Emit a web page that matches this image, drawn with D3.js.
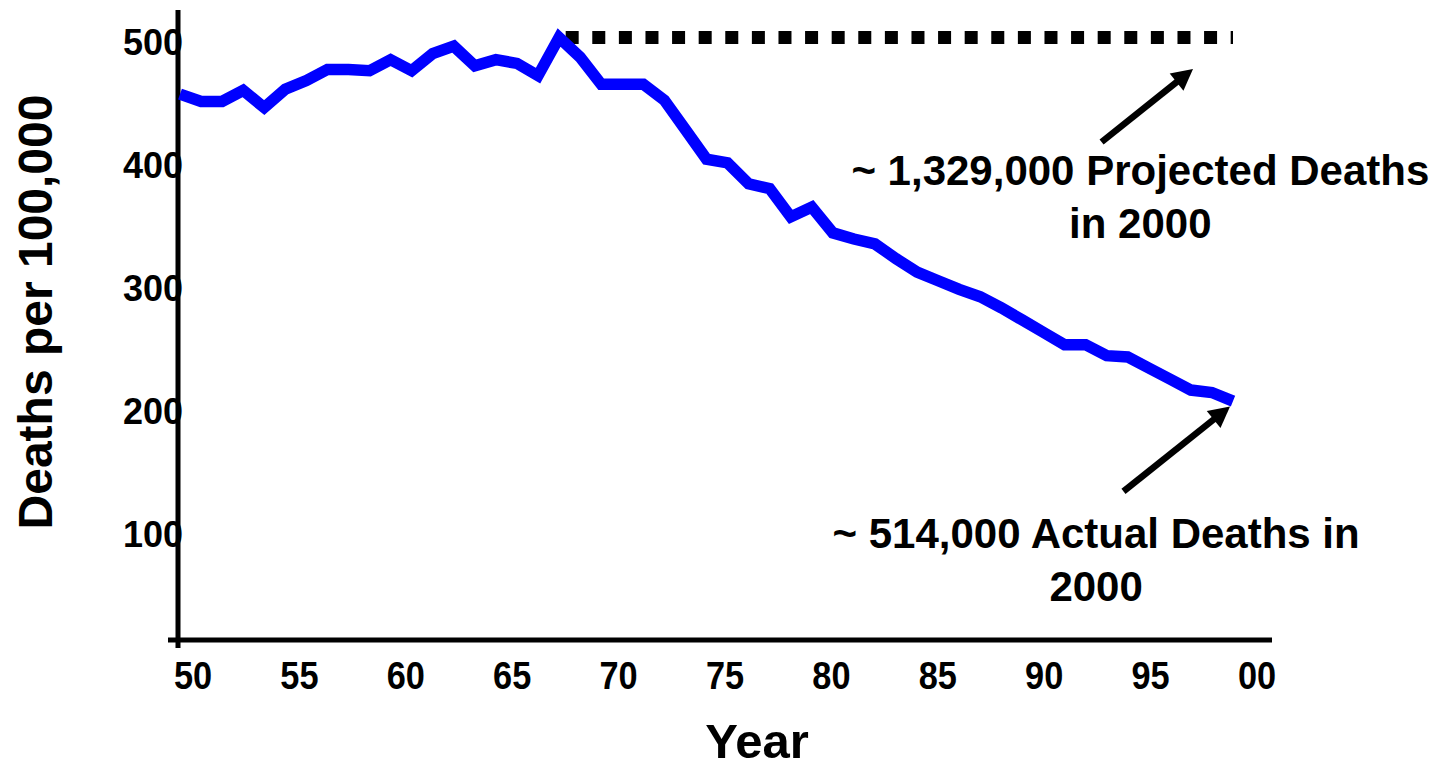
<!DOCTYPE html>
<html>
<head>
<meta charset="utf-8">
<script src="https://cdn.jsdelivr.net/npm/d3@7"></script>
<style>
  html, body { margin: 0; padding: 0; background: #fff; }
  svg { display: block; }
  text { font-family: "Liberation Sans", Arial, Helvetica, sans-serif; font-weight: bold; fill: #000; }
</style>
</head>
<body>
<svg id="chart" width="1443" height="770"></svg>
<script>
// ---------- data ----------
const years = [1950,1951,1952,1953,1954,1955,1956,1957,1958,1959,
               1960,1961,1962,1963,1964,1965,1966,1967,1968,1969,
               1970,1971,1972,1973,1974,1975,1976,1977,1978,1979,
               1980,1981,1982,1983,1984,1985,1986,1987,1988,1989,
               1990,1991,1992,1993,1994,1995,1996,1997,1998,1999,2000];
const deathRates = [458,452,452,461,447,462,469,478,478,477,
                    486,477,491,497,481,486,483,473,504,488,
                    466,466,466,453,429,405,402,385,381,358,
                    366,345,340,336,324,313,306,299,293,284,
                    274,264,254,254,245,244,235,226,217,215,208];
const projectedYears = [1968, 2000];
const projectedRates = [504, 504];
const xTickLabels = ["50","55","60","65","70","75","80","85","90","95","00"];
const yTicks = [100, 200, 300, 400, 500];
const annotationLines = [
  ["~ 1,329,000 Projected Deaths", "in 2000"],
  ["~ 514,000 Actual Deaths in", "2000"]
];
// arrow endpoints in data units [year, rate]
const arrowFrom = [[1993.76, 419], [1994.8, 134.5]];
const arrowTo   = [[1998.1, 478.4], [1999.86, 203.7]];
// text anchors in data units [year, rate]
const textAt = [[1995.6, 384], [1993.5, 88.7]];

// ---------- layout ----------
const svg = d3.select("#chart");
const x = d3.scaleLinear().domain([1950, 2000]).range([180, 1233]);
const y = d3.scaleLinear().domain([0, 500]).range([656.6, 42.5]);
const xLab = d3.scalePoint().domain(xTickLabels).range([193, 1257]);

// axes lines
svg.append("line").attr("x1", 178).attr("x2", 178).attr("y1", 10).attr("y2", 648)
  .attr("stroke", "#000").attr("stroke-width", 5);
svg.append("line").attr("x1", 168).attr("x2", 1272).attr("y1", 640).attr("y2", 640)
  .attr("stroke", "#000").attr("stroke-width", 5);

// y tick labels
svg.append("g").selectAll("text").data(yTicks).join("text")
  .attr("x", 183).attr("y", d => y(d)).attr("dy", "0.36em")
  .attr("text-anchor", "end").attr("font-size", 36).text(d => d);

// x tick labels
svg.append("g").selectAll("text").data(xTickLabels).join("text")
  .attr("transform", d => `translate(${xLab(d)},689) scale(0.88,1)`)
  .attr("text-anchor", "middle").attr("font-size", 39).text(d => d);

// axis titles
svg.append("text").attr("transform", "translate(52,312) rotate(-90)")
  .attr("text-anchor", "middle").attr("font-size", 48).text("Deaths per 100,000");
svg.append("text").attr("x", 757).attr("y", 758)
  .attr("text-anchor", "middle").attr("font-size", 49).text("Year");

// projected dotted line
const projLine = d3.line().x((d, i) => x(projectedYears[i])).y(d => y(d));
svg.append("path").datum(projectedRates).attr("d", projLine)
  .attr("fill", "none").attr("stroke", "#000").attr("stroke-width", 13)
  .attr("stroke-dasharray", "13,13.6").attr("stroke-dashoffset", 20);

// actual line
const line = d3.line().x((d, i) => x(years[i])).y(d => y(d));
svg.append("path").datum(deathRates).attr("d", line)
  .attr("fill", "none").attr("stroke", "#0000ff").attr("stroke-width", 11.5)
  .attr("stroke-linejoin", "miter");

// arrows
arrowFrom.forEach((f, i) => {
  const x1 = x(f[0]), y1 = y(f[1]);
  const x2 = x(arrowTo[i][0]), y2 = y(arrowTo[i][1]);
  const ang = Math.atan2(y2 - y1, x2 - x1);
  const hl = 21, hw = 11;
  const bx = x2 - hl * Math.cos(ang), by = y2 - hl * Math.sin(ang);
  svg.append("line").attr("x1", x1).attr("y1", y1).attr("x2", bx + 2 * Math.cos(ang)).attr("y2", by + 2 * Math.sin(ang))
    .attr("stroke", "#000").attr("stroke-width", 6.5);
  const px = -Math.sin(ang), py = Math.cos(ang);
  svg.append("path")
    .attr("d", `M${x2},${y2}L${bx + hw * px},${by + hw * py}L${bx - hw * px},${by - hw * py}Z`)
    .attr("fill", "#000");
});

// annotation texts
annotationLines.forEach((lines, i) => {
  const t = svg.append("text").attr("text-anchor", "middle").attr("font-size", 42);
  lines.forEach((s, j) => {
    t.append("tspan").attr("x", x(textAt[i][0])).attr("y", y(textAt[i][1]) + j * 53).text(s);
  });
});
</script>
</body>
</html>
